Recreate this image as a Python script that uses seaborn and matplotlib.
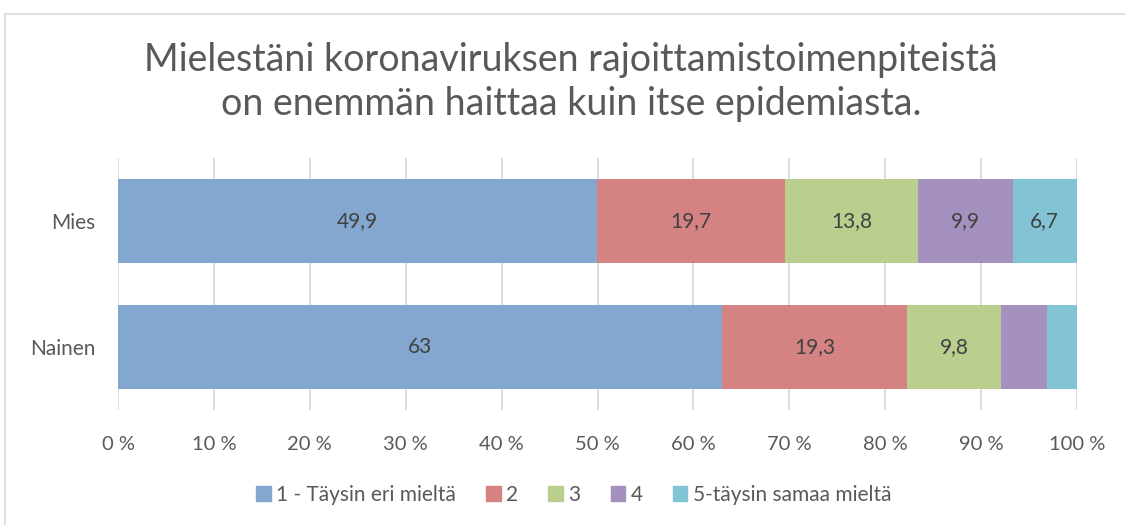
import matplotlib
matplotlib.use("Agg")
import matplotlib.pyplot as plt
import seaborn as sns
import pandas as pd
import numpy as np
from matplotlib.patches import Rectangle

categories = ["Mies", "Nainen"]
series_names = ["1 - Täysin eri mieltä", "2", "3", "4", "5-täysin samaa mieltä"]
v1 = [49.9, 63.0]
v2 = [19.7, 19.3]
v3 = [13.8, 9.8]
v4 = [9.9, 4.8]
v5 = [6.7, 3.1]
show_labels = [[True, True], [True, True], [True, True], [True, False], [True, False]]
colors = ["#84A7D0", "#D48382", "#BACE8D", "#A591BF", "#82C4D6"]
title = "Mielestäni koronaviruksen rajoittamistoimenpiteistä\non enemmän haittaa kuin itse epidemiasta."
xticks = [0, 10, 20, 30, 40, 50, 60, 70, 80, 90, 100]

sns.set_theme(style="white")
plt.rcParams['font.family'] = ['Lato', 'DejaVu Sans']
text_color = "#595959"

fig = plt.figure(figsize=(11.25, 5.25), dpi=100)
ax = fig.add_axes([118/1125, 1 - 410/525, (1077-118)/1125, (410-158)/525])

vals = [v1, v2, v3, v4, v5]
cum = np.cumsum(np.array(vals), axis=0)
for i in range(len(vals) - 1, -1, -1):
    df = pd.DataFrame({"cat": categories, "val": cum[i]})
    sns.barplot(data=df, x="val", y="cat", orient="h", color=colors[i],
                width=0.667, ax=ax, saturation=1, linewidth=0, zorder=2)

for i in range(len(vals)):
    for j in range(len(categories)):
        if show_labels[i][j]:
            start = cum[i][j] - vals[i][j]
            center = start + vals[i][j] / 2
            lab = f"{vals[i][j]:g}".replace(".", ",")
            ax.text(center, j, lab, ha="center", va="center", fontsize=15,
                    color="#404040", zorder=3)

ax.set_xlim(0, 100)
ax.set_ylim(1.5, -0.5)
ax.set_xticks(xticks)
ax.set_xticklabels([f"{t} %" for t in xticks], fontsize=14.5, color=text_color)
ax.tick_params(axis="x", length=0, pad=19)
ax.tick_params(axis="y", length=0, pad=16.5, labelsize=15, labelcolor=text_color)
ax.set_xlabel("")
ax.set_ylabel("")
ax.xaxis.grid(True, color="#D9D9D9", linewidth=1.3, zorder=0)
ax.set_axisbelow(True)
for s in ax.spines.values():
    s.set_visible(False)

fig.text(571/1125, 1 - 82/525, title, ha="center", va="center", fontsize=27,
         color=text_color, linespacing=1.27)

handles = [Rectangle((0, 0), 1, 1, color=c) for c in colors]
fig.legend(handles, series_names, loc="center", bbox_to_anchor=(0.51, 1 - 495/525),
           ncol=5, frameon=False, fontsize=15, handlelength=0.7, handleheight=0.7,
           handletextpad=0.25, columnspacing=1.45, labelcolor=text_color)

fig.patches.append(Rectangle((5/1125, -0.01), 1.2, 1 - 14/525 + 0.01, transform=fig.transFigure,
                             fill=False, edgecolor="#D9D9D9", linewidth=1.2))

fig.savefig("out.png", dpi=100)
